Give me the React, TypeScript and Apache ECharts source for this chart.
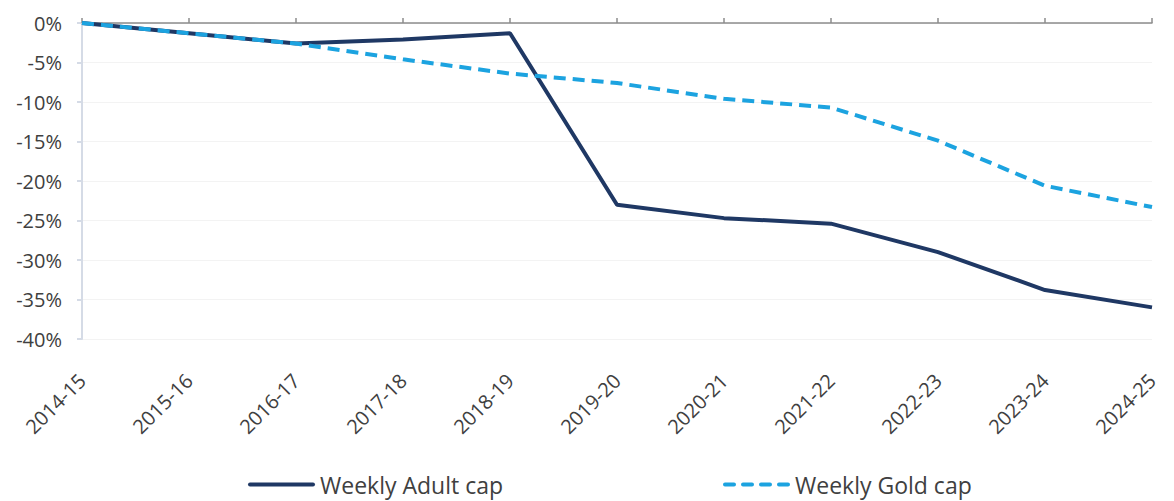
import React, { useEffect, useRef } from "react";
import * as echarts from "echarts";

const categories = [
  "2014-15", "2015-16", "2016-17", "2017-18", "2018-19", "2019-20",
  "2020-21", "2021-22", "2022-23", "2023-24", "2024-25",
];
const adultCap = [0, -1.3, -2.6, -2.1, -1.3, -23.0, -24.7, -25.4, -29.0, -33.8, -36.0];
const goldCap = [0, -1.3, -2.6, -4.6, -6.4, -7.6, -9.6, -10.7, -14.9, -20.6, -23.3];
const seriesNames = ["Weekly Adult cap", "Weekly Gold cap"];

const FONT = "'Open Sans', 'Noto Sans', sans-serif";
const TEXT = "#404040";
const NAVY = "#1f3864";
const BLUE = "#1ca3e0";

const SOLID_ICON = "path://M2,0h63a2,2 0 0 1 0,4h-63a2,2 0 0 1 0,-4z";
const DASH_ICON =
  "path://M2,0h9a2,2 0 0 1 0,4h-9a2,2 0 0 1 0,-4z M20,0h9a2,2 0 0 1 0,4h-9a2,2 0 0 1 0,-4z M38,0h9a2,2 0 0 1 0,4h-9a2,2 0 0 1 0,-4z M56,0h9a2,2 0 0 1 0,4h-9a2,2 0 0 1 0,-4z";

export default function App() {
  const ref = useRef<HTMLDivElement>(null);
  useEffect(() => {
    if (!ref.current) return;
    const chart = echarts.init(ref.current, null, { renderer: "svg" });
    const legendText = { fontFamily: FONT, fontSize: 23, color: TEXT };
    chart.setOption({
      animation: false,
      backgroundColor: "#ffffff",
      grid: { left: 82, right: 22, top: 23, bottom: 162 },
      legend: [
        {
          data: [{ name: seriesNames[0], icon: SOLID_ICON }],
          left: 248,
          top: 473,
          itemWidth: 67,
          itemHeight: 4,
          padding: 0,
          textStyle: legendText,
        },
        {
          data: [{ name: seriesNames[1], icon: DASH_ICON }],
          left: 723,
          top: 473,
          itemWidth: 67,
          itemHeight: 4,
          padding: 0,
          textStyle: legendText,
        },
      ],
      xAxis: [
        {
          type: "category",
          data: categories,
          boundaryGap: false,
          position: "bottom",
          axisLine: { show: false, onZero: false },
          axisTick: { show: false },
          axisLabel: {
            rotate: 45,
            margin: 38,
            fontFamily: FONT,
            fontSize: 20,
            color: TEXT,
            interval: 0,
          },
          splitLine: { show: false },
        },
        {
          type: "category",
          data: categories,
          boundaryGap: false,
          position: "top",
          axisLine: { show: true, onZero: false, lineStyle: { color: "#8c8c8c", width: 1.5 } },
          axisTick: { show: true, length: 5, lineStyle: { color: "#8c8c8c", width: 1.5 }, interval: 0 },
          axisLabel: { show: false },
          splitLine: { show: false },
        },
      ],
      yAxis: {
        type: "value",
        min: -40,
        max: 0,
        interval: 5,
        axisLine: { show: true, lineStyle: { color: "#d5dbe6", width: 2 } },
        axisTick: { show: true, length: 5, lineStyle: { color: "#d5dbe6", width: 2 } },
        axisLabel: {
          formatter: "{value}%",
          margin: 20,
          fontFamily: FONT,
          fontSize: 20,
          color: TEXT,
        },
        splitLine: { show: true, lineStyle: { color: "#f3f3f3", width: 1 } },
      },
      series: [
        {
          name: seriesNames[0],
          type: "line",
          data: adultCap,
          xAxisIndex: 0,
          symbol: "none",
          color: NAVY,
          itemStyle: { color: NAVY },
          lineStyle: { color: NAVY, width: 4 },
        },
        {
          name: seriesNames[1],
          type: "line",
          data: goldCap,
          xAxisIndex: 0,
          symbol: "none",
          color: BLUE,
          itemStyle: { color: BLUE },
          lineStyle: { color: BLUE, width: 4, type: [12, 7] },
        },
      ],
    });
    return () => chart.dispose();
  }, []);
  return (
    <div
      ref={ref}
      style={{ position: "fixed", left: 0, top: 0, width: 1174, height: 501, background: "#fff" }}
    />
  );
}
